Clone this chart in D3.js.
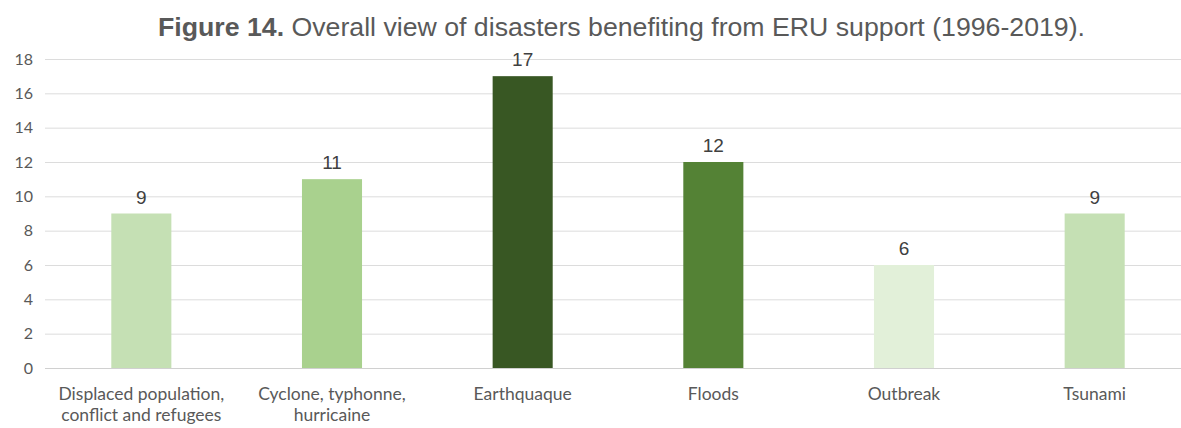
<html>
<head>
<meta charset="utf-8">
<script src="https://cdn.jsdelivr.net/npm/d3@7"></script>
<style>
  body { margin: 0; background: #fff; }
  .tick text { font-family: Lato, "Open Sans", sans-serif; }
</style>
</head>
<body>
<svg width="1181" height="428"></svg>
<script>
// chart data
var categories = [
  ["Displaced population,", "conflict and refugees"],
  ["Cyclone, typhonne,", "hurricaine"],
  ["Earthquaque"],
  ["Floods"],
  ["Outbreak"],
  ["Tsunami"]
];
var values = [9, 11, 17, 12, 6, 9];
var barColors = ["#c5e0b4", "#a9d18e", "#385723", "#548235", "#e2f0d9", "#c5e0b4"];
var yTicks = [0, 2, 4, 6, 8, 10, 12, 14, 16, 18];

var svg = d3.select("svg"),
    width = +svg.attr("width"),
    height = +svg.attr("height");

var x = d3.scaleBand()
    .domain(d3.range(categories.length))
    .range([46, 1190])
    .paddingInner(0.685)
    .paddingOuter(0.3425);

var y = d3.scaleLinear()
    .domain([0, 18])
    .range([368, 59]);

/* title, bold part + regular part, squeezed like the original */
var title = svg.append("text")
    .attr("x", 158)
    .attr("y", 36)
    .attr("text-anchor", "start")
    .attr("font-family", "'Liberation Sans', Arial, sans-serif")
    .attr("font-size", "25px")
    .attr("fill", "#595959")
    .attr("textLength", 927)
    .attr("lengthAdjust", "spacingAndGlyphs");
title.append("tspan").attr("font-weight", "bold").text("Figure 14.");
title.append("tspan").text(" Overall view of disasters benefiting from ERU support (1996-2019).");

// gridlines
svg.append("g")
  .selectAll("line")
  .data(yTicks)
  .enter().append("line")
    .attr("x1", 45)
    .attr("x2", width)
    .attr("y1", function(d) { return y(d) + 0.5; })
    .attr("y2", function(d) { return y(d) + 0.5; })
    .attr("stroke", function(d) { return d == 0 ? "#d0d0d0" : "#dcdcdc"; })
    .attr("stroke-width", 1);

// y axis labels
svg.append("g")
    .attr("transform", "translate(33,0)")
    .call(d3.axisLeft(y).tickValues(yTicks).tickSize(0).tickPadding(0))
    .call(function(g) { g.select(".domain").remove(); })
    .selectAll("text")
      .attr("font-size", "16px")
      .attr("fill", "#595959");

// bars
svg.append("g")
  .selectAll("rect")
  .data(values)
  .enter().append("rect")
    .attr("x", function(d, i) { return x(i); })
    .attr("y", function(d) { return y(d); })
    .attr("width", x.bandwidth())
    .attr("height", function(d) { return y(0) - y(d); })
    .attr("fill", function(d, i) { return barColors[i]; });

// value labels
svg.append("g")
  .selectAll("text")
  .data(values)
  .enter().append("text")
    .attr("x", function(d, i) { return x(i) + x.bandwidth() / 2; })
    .attr("y", function(d) { return y(d) - 10; })
    .attr("text-anchor", "middle")
    .attr("font-family", "'Liberation Sans', Arial, sans-serif")
    .attr("font-size", "19px")
    .attr("fill", "#404040")
    .text(function(d) { return d; });

// category labels (wrapped manually)
var cat = svg.append("g")
  .selectAll("text")
  .data(categories)
  .enter().append("text")
    .attr("text-anchor", "middle")
    .attr("font-family", "Lato, 'Open Sans', sans-serif")
    .attr("font-size", "17.5px")
    .attr("fill", "#595959");
cat.selectAll("tspan")
  .data(function(d, i) { return d.map(function(s) { return {s: s, i: i}; }); })
  .enter().append("tspan")
    .attr("x", function(d) { return x(d.i) + x.bandwidth() / 2; })
    .attr("y", function(d, j) { return 400 + j * 21; })
    .text(function(d) { return d.s; });
</script>
</body>
</html>
